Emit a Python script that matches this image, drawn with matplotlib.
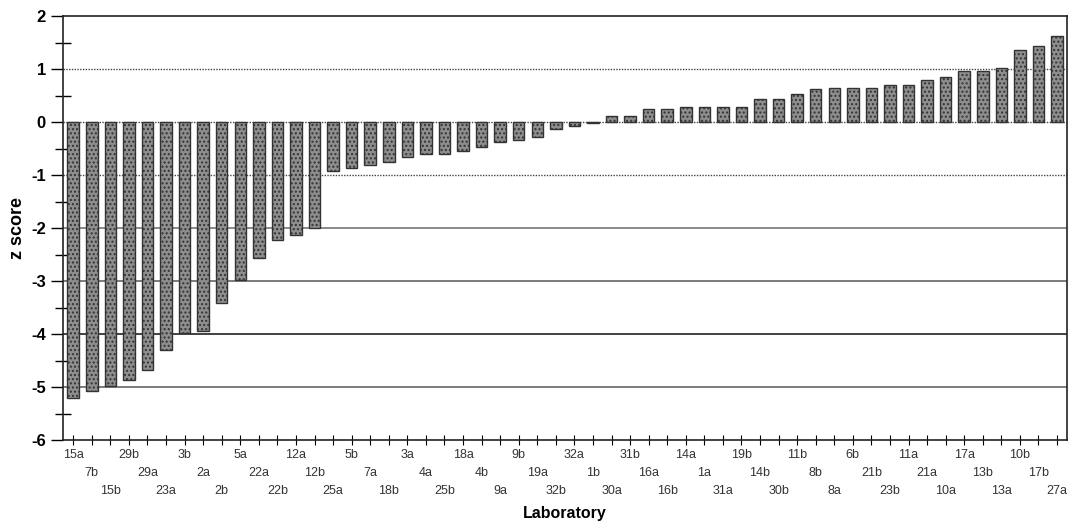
import matplotlib.pyplot as plt
import numpy as np

plt.rcParams['font.family'] = ['Liberation Sans', 'DejaVu Sans']

# laboratories, sorted by z score
labs = ['15a', '7b', '15b', '29b', '29a', '23a', '3b', '2a', '2b', '5a',
        '22a', '22b', '12a', '12b', '25a', '5b', '7a', '18b', '3a', '4a',
        '25b', '18a', '4b', '9a', '9b', '19a', '32b', '32a', '1b', '30a',
        '31b', '16a', '16b', '14a', '1a', '31a', '19b', '14b', '30b', '11b',
        '8b', '8a', '6b', '21b', '23b', '11a', '21a', '10a', '17a', '13b',
        '13a', '10b', '17b', '27a']
zscores = [-5.21, -5.08, -4.98, -4.86, -4.67, -4.30, -3.98, -3.94, -3.41, -2.97,
           -2.56, -2.23, -2.13, -1.99, -0.92, -0.87, -0.81, -0.75, -0.65, -0.61,
           -0.60, -0.55, -0.47, -0.38, -0.34, -0.28, -0.12, -0.08, -0.01, 0.11,
           0.12, 0.24, 0.25, 0.29, 0.28, 0.28, 0.29, 0.43, 0.44, 0.54,
           0.62, 0.64, 0.65, 0.65, 0.70, 0.70, 0.80, 0.85, 0.97, 0.97,
           1.03, 1.37, 1.43, 1.62]

x = np.arange(1, len(labs) + 1)

fig = plt.figure(figsize=(10.71, 5.22), dpi=100)
ax = fig.add_axes([0.059, 0.157, 0.937, 0.812])

# reference lines behind the bars
ax.axhline(1, color='#444444', lw=1.0, ls=(0, (1, 1)), zorder=1)
ax.axhline(0, color='#444444', lw=1.0, ls=(0, (1, 1)), zorder=1)
ax.axhline(-1, color='#444444', lw=1.0, ls=(0, (1, 1)), zorder=1)
ax.axhline(-2, color='#777777', lw=1.2, zorder=1)
ax.axhline(-3, color='#666666', lw=1.2, zorder=1)
ax.axhline(-4, color='#333333', lw=1.3, zorder=1)
ax.axhline(-5, color='#666666', lw=1.2, zorder=1)

ax.bar(x, zscores, width=0.62, color='#8e8e8e', edgecolor='#333333',
       linewidth=1.0, hatch='....', zorder=2)

ax.set_xlim(0.46, 54.52)
ax.set_ylim(-6, 2)

ax.set_yticks(range(-6, 3))
ax.set_yticklabels([str(v) for v in range(-6, 3)], fontweight='bold', fontsize=12)
ax.set_yticks(np.arange(-5.5, 2, 1.0), minor=True)
ax.tick_params(axis='y', which='major', direction='out', length=9, width=1)
ax.tick_params(axis='y', which='minor', direction='inout', length=12, width=1)

# lab names staggered over three rows under the ticks
ax.set_xticks(x)
ax.set_xticklabels([])
ax.tick_params(axis='x', direction='inout', length=7, width=0.8)
trans = ax.get_xaxis_transform()
for i, lab in enumerate(labs):
    ax.annotate(lab, xy=(x[i], 0), xycoords=trans,
                xytext=(0, -11 - 12.7 * (i % 3)), textcoords='offset points',
                ha='center', va='center', fontsize=9, color='#333333')

ax.set_xlabel('Laboratory', fontweight='bold', fontsize=11.5)
ax.xaxis.set_label_coords(0.5, -0.155)
ax.set_ylabel('z score', fontweight='bold', fontsize=13, labelpad=4)

for s in ax.spines.values():
    s.set_linewidth(1.2)
    s.set_color('#222222')

plt.savefig('out.png', dpi=100)
